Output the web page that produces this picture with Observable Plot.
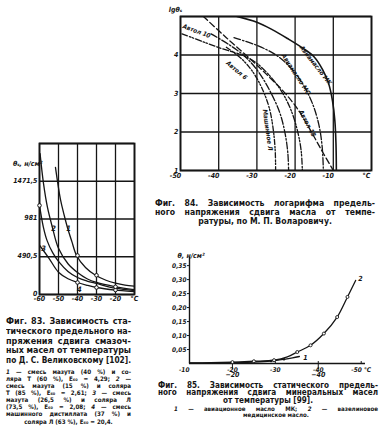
<!DOCTYPE html>
<html><head><meta charset="utf-8">
<script src="https://cdn.jsdelivr.net/npm/d3@7"></script>
<script src="https://cdn.jsdelivr.net/npm/@observablehq/plot@0.6"></script>
<style>
html,body{margin:0;padding:0;background:#fff}
body{width:382px;height:438px;position:relative;overflow:hidden;color:#151515;font-family:"DejaVu Sans Condensed","DejaVu Sans",sans-serif}
.abs{position:absolute}
.cap{font-weight:bold}
.cap div{text-align:left;white-space:nowrap;overflow:visible}
.cap div.c{text-align:center}
svg{overflow:visible}
</style></head>
<body>
<div id="f83" class="abs" style="left:0;top:130px"></div>
<div id="f84" class="abs" style="left:130px;top:0"></div>
<div id="f85" class="abs" style="left:140px;top:245px"></div>

<div class="abs cap" style="left:6px;top:317px;width:125px;font-size:9px;line-height:9.8px">
<div>Фиг. 83. Зависимость ста-</div>
<div>тического предельного на-</div>
<div>пряжения сдвига смазоч-</div>
<div>ных масел от температуры</div>
<div>по Д. С. Великовскому [102].</div>
</div>
<div class="abs cap" style="left:6px;top:367.5px;width:125px;font-size:6.2px;line-height:7.15px">
<div><i>1</i> — смесь мазута (40 %) и со-</div>
<div>ляра Т (60 %), E₆₀ = 4,29; <i>2</i> —</div>
<div>смесь мазута (15 %) и соляра</div>
<div>Т (85 %), E₆₀ = 2,61; <i>3</i> — смесь</div>
<div>мазута (26,5 %) и соляра Л</div>
<div>(73,5 %), E₆₀ = 2,08; <i>4</i> — смесь</div>
<div>машинного дистиллата (37 %) и</div>
<div class="c">соляра Л (63 %), E₆₀ = 20,4.</div>
</div>

<div class="abs cap" style="left:155px;top:198.5px;width:220px;font-size:8.6px;line-height:9px">
<div>Фиг. 84. Зависимость логарифма предель-</div>
<div>ного напряжения сдвига масла от темпе-</div>
<div class="c">ратуры, по М. П. Воларовичу.</div>
</div>

<div class="abs cap" style="left:158px;top:381.5px;width:220px;font-size:8.1px;line-height:7.9px">
<div>Фиг. 85. Зависимость статического предель-</div>
<div>ного напряжения сдвига минеральных масел</div>
<div class="c">от температуры [99].</div>
</div>
<div class="abs cap" style="left:174px;top:405.5px;width:204px;font-size:6.1px;line-height:6.4px">
<div><i>1</i> — авиационное масло МК; <i>2</i> — вазелиновое</div>
<div class="c">медицинское масло.</div>
</div>

<script>
// ---------- Fig. 83 data ----------
const f83XTicks = [-60, -50, -40, -30, -20, -10];
const f83XLabels = ["-60", "-50", "-40", "-30", "-20", "°C"];
const f83YTicks = [0, 490.5, 981, 1471.5, 1962];
const f83YLabels = ["0", "490,5", "981", "1471,5", ""];
const f83Curve1 = [[-51.6,1651],[-49,1240],[-47,1030],[-45.3,871],[-43,690],[-40.5,507],[-35.8,351],[-30.5,250],[-25,185],[-20,147],[-15,122],[-10,108]];
const f83Curve2 = [[-59.7,1830],[-57.9,1443],[-55.8,1131],[-53.2,871],[-50,600],[-45,400],[-40,286],[-35,205],[-30,156],[-20,100],[-10,62]];
const f83Curve3 = [[-60,1157],[-58,880],[-56,700],[-53,540],[-50,430],[-45,300],[-40,221],[-35,175],[-30,143],[-20,82],[-10,50]];
const f83Curve4 = [[-60,640],[-55,470],[-50,290],[-45,205],[-40,156],[-35,120],[-30,91],[-20,58],[-10,38]];
const f83Markers = [[-60,1157],[-40,507],[-30,250],[-40,156],[-30,91],[-20,58],[-20,100]];
const f83CurveLabels = ["1", "2", "3", "4"];
const f83LabelPos = [[-44.7,858],[-52.6,858],[-57.9,598],[-39,62]];

// ---------- Fig. 84 data ----------
const f84XTicks = [-50, -40, -30, -20, -10, 0];
const f84XLabels = ["-50", "-40", "-30", "-20", "-10", "°C"];
const f84YTicks = [1, 2, 3, 4, 5];
const f84YLabels = ["1", "2", "3", "4", ""];
const f84Names = ["Авиамасло МК", "Авиамасло МС", "Автол 18", "Автол 10", "Автол 6", "Машинное Л"];
const f84MK = [[-35.2,5],[-30,4.85],[-26,4.66],[-22,4.43],[-18,4.18],[-15,3.95],[-12.8,3.62],[-11.2,3.25],[-10.2,2.8],[-9.6,2.3],[-9.3,1.7],[-9.2,1]];
const f84MS = [[-36,4.45],[-30,4.25],[-25,4.0],[-21,3.65],[-18,3.25],[-15.5,2.75],[-13.8,2.2],[-12.9,1.6],[-12.6,1]];
const f84Avtol18 = [[-44,5],[-38,4.45],[-32,3.92],[-27,3.45],[-23,3.05],[-19.5,2.62],[-16.3,2.1],[-13.2,1.55],[-10,1]];
const f84Avtol10 = [[-49.6,4.55],[-44,4.34],[-39,4.16],[-34,4.0],[-30.5,3.82],[-27,3.5],[-23.5,3.05],[-21,2.55],[-19.3,2.0],[-18.4,1.5],[-18.1,1]];
const f84Avtol6 = [[-42,4.55],[-37,4.25],[-33,3.95],[-29.5,3.55],[-26.5,3.05],[-24,2.5],[-22.6,1.95],[-21.9,1.45],[-21.7,1]];
const f84Mash = [[-38,4.2],[-34,3.9],[-31,3.55],[-28.5,3.1],[-26.7,2.6],[-25.7,2.05],[-25.2,1.5],[-25.1,1]];
const f84LabelPos = [[-14.6,3.73,52],[-19.8,3.5,57],[-16.8,2.22,62],[-45.8,4.62,20],[-35.3,3.6,40],[-27.2,2.05,82]];

// ---------- Fig. 85 data ----------
const f85XTicks = [-10, -20, -30, -40, -50];
const f85XLabels = ["-10", "-20", "-30", "-40", "-50 °C"];
const f85YTicks = [0.05, 0.10, 0.15, 0.20, 0.25, 0.30, 0.35];
const f85Curve1 = [[-10,0.001],[-15,0.0015],[-20,0.003],[-25,0.005],[-29,0.009],[-32,0.015],[-34,0.02],[-35.6,0.025]];
const f85Curve2 = [[-10,0.002],[-15,0.003],[-20,0.005],[-25,0.008],[-29.7,0.012],[-32.8,0.024],[-35.1,0.041],[-38.2,0.065],[-41.3,0.107],[-44.4,0.166],[-46.8,0.238],[-48.7,0.297]];
const f85Markers2 = [[-20,0.005],[-25,0.008],[-29.7,0.012],[-35.1,0.041],[-38.2,0.065],[-41.3,0.107],[-44.4,0.166],[-46.8,0.238]];
const f85Markers1 = [[-29,0.009],[-32,0.015]];

// ---------- helpers ----------
const ink = "#151515";
const font = '"DejaVu Sans Condensed","DejaVu Sans",sans-serif';
const rows = (name, pts) => pts.map(([t, v]) => ({s: name, t, v}));
const baseStyle = {fontFamily: font, fontSize: "7px", fontWeight: "bold", fontStyle: "italic", color: ink, background: "transparent", overflow: "visible"};

// ---------- Fig. 83 ----------
{
  const lines = [...rows("1", f83Curve1), ...rows("2", f83Curve2), ...rows("3", f83Curve3), ...rows("4", f83Curve4)];
  const labs = f83CurveLabels.map((l, i) => ({l, t: f83LabelPos[i][0], v: f83LabelPos[i][1]}));
  const p = Plot.plot({
    width: 140, height: 180, marginLeft: 39, marginRight: 6, marginTop: 13, marginBottom: 16,
    x: {domain: [-60, -10], label: null}, y: {domain: [0, 1962], label: null},
    style: baseStyle,
    marks: [
      Plot.ruleX(f83XTicks, {stroke: ink, strokeWidth: 1.3}),
      Plot.ruleY(f83YTicks, {stroke: ink, strokeWidth: 1.3}),
      Plot.frame({stroke: ink, strokeWidth: 1.8}),
      Plot.line(lines, {x: "t", y: "v", z: "s", curve: "catmull-rom", stroke: ink, strokeWidth: 1.3, clip: true}),
      Plot.dot(f83Markers, {x: d => d[0], y: d => d[1], r: 1.8, fill: "#fff", stroke: ink, strokeWidth: 1}),
      Plot.text(labs, {x: "t", y: "v", text: "l", fontSize: 7.5, fill: ink}),
      Plot.axisX({ticks: f83XTicks, tickSize: 0, tickPadding: 2, label: null, tickFormat: d => f83XLabels[f83XTicks.indexOf(d)], fill: ink}),
      Plot.axisY({ticks: f83YTicks, tickSize: 0, tickPadding: 2, dy: -1, label: null, tickFormat: d => f83YLabels[f83YTicks.indexOf(d)], fill: ink}),
      Plot.text(["θₛ, н/см²"], {x: -60, y: 1962, dx: 3, dy: 20, text: d => d, textAnchor: "end", fontSize: 7, fill: ink})
    ]
  });
  document.getElementById("f83").append(p);
}

// ---------- Fig. 84 ----------
{
  const series = [f84MK, f84MS, f84Avtol18, f84Avtol10, f84Avtol6, f84Mash];
  const dashes = [null, "7,2,1.5,2", "6,3", "6,2,1.5,1.5,1.5,2", "7,2,1.5,2", "5,2,1.5,1.5,1.5,2"];
  const labs = f84Names.map((n, i) => ({n, t: f84LabelPos[i][0], v: f84LabelPos[i][1], r: f84LabelPos[i][2]}));
  const p = Plot.plot({
    width: 252, height: 185, marginLeft: 50, marginRight: 11, marginTop: 16, marginBottom: 15,
    x: {domain: [-50, 0], label: null}, y: {domain: [1, 5], label: null},
    style: baseStyle,
    marks: [
      Plot.ruleX(f84XTicks, {stroke: ink, strokeWidth: 1.3}),
      Plot.ruleY(f84YTicks, {stroke: ink, strokeWidth: 1.3}),
      Plot.frame({stroke: ink, strokeWidth: 1.8}),
      ...series.map((s, i) => Plot.line(s, {x: d => d[0], y: d => d[1], curve: "catmull-rom", stroke: ink,
        strokeWidth: i === 0 ? 1.6 : 1.3, strokeDasharray: dashes[i], clip: true})),
      Plot.text(labs, {x: "t", y: "v", text: "n", rotate: "r", fontSize: 6.3, fill: ink}),
      Plot.axisX({ticks: f84XTicks, tickSize: 0, tickPadding: 3, dx: -5, label: null, tickFormat: d => f84XLabels[f84XTicks.indexOf(d)], fill: ink}),
      Plot.axisY({ticks: f84YTicks, tickSize: 0, tickPadding: 2, label: null, tickFormat: d => f84YLabels[f84YTicks.indexOf(d)], fill: ink}),
      Plot.text(["lgθₛ"], {x: -50, y: 5, dx: -5, dy: -7, text: d => d, fontSize: 7, fill: ink})
    ]
  });
  document.getElementById("f84").append(p);
}

// ---------- Fig. 85 ----------
{
  const lines = [...rows("1", f85Curve1), ...rows("2", f85Curve2)];
  const p = Plot.plot({
    width: 242, height: 130, marginLeft: 49, marginRight: 17, marginTop: 12, marginBottom: 12,
    x: {domain: [-10, -51], label: null}, y: {domain: [0, 0.379], label: null},
    style: baseStyle,
    marks: [
      Plot.ruleX([-10], {stroke: ink, strokeWidth: 1.4}),
      Plot.ruleY([0], {stroke: ink, strokeWidth: 1.4}),
      Plot.ruleX(f85XTicks, {y1: 0, y2: 0.007, stroke: ink, strokeWidth: 1}),
      Plot.line(lines, {x: "t", y: "v", z: "s", curve: "catmull-rom", stroke: ink, strokeWidth: 1.3}),
      Plot.dot(f85Markers2, {x: d => d[0], y: d => d[1], r: 1.5, fill: "#fff", stroke: ink, strokeWidth: 0.9}),
      Plot.dot(f85Markers1, {x: d => d[0], y: d => d[1], r: 1.3, fill: ink}),
      Plot.text(["2"], {x: -49.8, y: 0.303, text: d => d, fontSize: 7, fill: ink}),
      Plot.text(["1"], {x: -37, y: 0.022, text: d => d, fontSize: 7, fill: ink}),
      Plot.axisY({ticks: f85YTicks, tickSize: 2, tickPadding: 1, label: null, tickFormat: d => d3.format(".2f")(d).replace(".", ","), fontSize: 6.5, fill: ink, stroke: ink}),
      Plot.text(f85XTicks.slice(0, 1), {x: d => d, y: 0, dy: 6, text: () => f85XLabels[0], textAnchor: "end", fontSize: 6.5, fill: ink}),
      Plot.text(f85XTicks.slice(1), {x: d => d, y: 0, dy: 6, text: d => f85XLabels[f85XTicks.indexOf(d)], fontSize: 6.5, fill: ink}),
      Plot.text(["θ, н/см²"], {x: -10, y: 0.379, dx: -12, dy: -2, text: d => d, textAnchor: "start", fontSize: 7, fill: ink})
    ]
  });
  document.getElementById("f85").append(p);
}

// ---------- justify caption lines ----------
document.querySelectorAll(".cap").forEach(cap => {
  const W = cap.clientWidth;
  cap.querySelectorAll("div").forEach(div => {
    const span = document.createElement("span");
    span.style.display = "inline-block";
    span.style.whiteSpace = "nowrap";
    while (div.firstChild) span.appendChild(div.firstChild);
    div.appendChild(span);
    const w = span.getBoundingClientRect().width;
    const centered = div.classList.contains("c");
    if (w > W) {
      span.style.transformOrigin = "left center";
      span.style.transform = `scaleX(${W / w})`;
      div.style.textAlign = "left";
    } else if (!centered) {
      const n = (span.textContent.match(/ /g) || []).length;
      if (n) span.style.wordSpacing = ((W - w) / n) + "px";
    }
  });
});
</script>
</body></html>
